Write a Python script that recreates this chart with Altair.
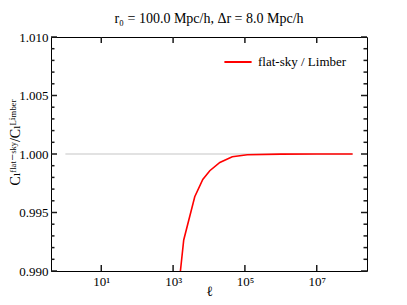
import altair as alt
import pandas as pd

# ---- data ----
ell_ratio = [1000, 1977, 4009, 6714, 10520, 20045, 44463, 116680, 1000000, 10000000, 100000000]
ratio = [0.9841, 0.99265, 0.99635, 0.99783, 0.99857, 0.99928, 0.99976, 0.99993, 0.99999, 1.0, 1.0]
ell_ref = [1, 100000000]
ref = [1.0, 1.0]
series_name = "flat-sky / Limber"

x_ticks = [10, 1000, 100000, 10000000]
x_tick_labels = ["10¹", "10³", "10⁵", "10⁷"]
y_major = [0.990, 0.995, 1.000, 1.005, 1.010]
y_minor = [0.991, 0.992, 0.993, 0.994, 0.996, 0.997, 0.998, 0.999,
           1.001, 1.002, 1.003, 1.004, 1.006, 1.007, 1.008, 1.009]

title_text = "r₀ = 100.0 Mpc/h, Δr = 8.0 Mpc/h"
y_title = "Cₗᶠˡᵃᵗ⁻ˢᵏʸ/Cₗᴸⁱᵐᵇᵉʳ"
x_title = "ℓ"

FONT = "Liberation Serif, DejaVu Serif, serif"
W, H = 316, 234
MAJ, MIN = 6, 3.5

df_ratio = pd.DataFrame({"ell": ell_ratio, "ratio": ratio, "series": [series_name] * len(ell_ratio)})
df_ref = pd.DataFrame({"ell": ell_ref, "ratio": ref})
df_xt = pd.DataFrame({"ell": x_ticks})
df_ymaj = pd.DataFrame({"ratio": y_major})
df_ymin = pd.DataFrame({"ratio": y_minor})

xscale = alt.Scale(type="log", domain=[10 ** -0.4, 10 ** 8.4], nice=False)
yscale = alt.Scale(domain=[0.990, 1.010], nice=False, zero=False)

label_expr = " : ".join(
    f"round(log(datum.value)/LN10) == {len(str(v)) - 1} ? '{lab}'" for v, lab in zip(x_ticks, x_tick_labels)
) + " : ''"

ref_line = alt.Chart(df_ref).mark_line(color="#d9d9d9", strokeWidth=1.6, clip=True).encode(
    x=alt.X("ell:Q", scale=xscale,
            axis=alt.Axis(orient="bottom", values=x_ticks, labelExpr=label_expr, ticks=False,
                          domain=False, grid=False, title=x_title, labelFont=FONT, labelFontSize=13,
                          labelColor="black", labelPadding=4, titleFont=FONT, titleFontSize=14,
                          titleFontWeight="normal", titleColor="black", titleY=24,
                          titleBaseline="alphabetic")),
    y=alt.Y("ratio:Q", scale=yscale,
            axis=alt.Axis(orient="left", values=y_major, format=".3f", ticks=False, domain=False,
                          grid=False, title=y_title, labelFont=FONT, labelFontSize=13,
                          labelColor="black", labelPadding=3, titleFont=FONT, titleFontSize=14,
                          titleFontWeight="normal", titleColor="black", titleX=-29, titleY=105)),
)

ratio_line = alt.Chart(df_ratio).mark_line(strokeWidth=1.6, clip=True).encode(
    x=alt.X("ell:Q", scale=xscale),
    y=alt.Y("ratio:Q", scale=yscale),
    color=alt.Color("series:N", scale=alt.Scale(domain=[series_name], range=["#ff0000"]),
                    legend=alt.Legend(orient="none", legendX=172, legendY=10, title="",
                                      symbolType="stroke", symbolSize=740, symbolStrokeWidth=2,
                                      labelFont=FONT, labelFontSize=13, labelColor="black",
                                      labelOffset=5)),
)

# inward ticks (matplotlib style) on all four sides
tk = dict(color="#1a1a1a", strokeWidth=1.5)
xt_bottom = alt.Chart(df_xt).mark_rule(**tk).encode(
    x=alt.X("ell:Q", scale=xscale), y=alt.value(H), y2=alt.value(H - MAJ))
xt_top = alt.Chart(df_xt).mark_rule(**tk).encode(
    x=alt.X("ell:Q", scale=xscale), y=alt.value(0), y2=alt.value(MAJ))
yl_maj = alt.Chart(df_ymaj).mark_rule(**tk).encode(
    y=alt.Y("ratio:Q", scale=yscale), x=alt.value(0), x2=alt.value(MAJ))
yr_maj = alt.Chart(df_ymaj).mark_rule(**tk).encode(
    y=alt.Y("ratio:Q", scale=yscale), x=alt.value(W), x2=alt.value(W - MAJ))
yl_min = alt.Chart(df_ymin).mark_rule(**tk).encode(
    y=alt.Y("ratio:Q", scale=yscale), x=alt.value(0), x2=alt.value(MIN))
yr_min = alt.Chart(df_ymin).mark_rule(**tk).encode(
    y=alt.Y("ratio:Q", scale=yscale), x=alt.value(W), x2=alt.value(W - MIN))

chart = alt.layer(
    ref_line, ratio_line, xt_bottom, xt_top, yl_maj, yr_maj, yl_min, yr_min
).properties(
    width=W, height=H,
    title=alt.TitleParams(text=title_text, font=FONT, fontSize=14, fontWeight="normal",
                          color="black", anchor="middle", offset=5),
    autosize=alt.AutoSizeParams(type="none"),
    padding={"left": 43, "top": 29, "right": 30, "bottom": 26},
).configure_view(stroke="black", strokeWidth=1)

chart.save("out.html", embed_options={"renderer": "svg", "actions": False})
